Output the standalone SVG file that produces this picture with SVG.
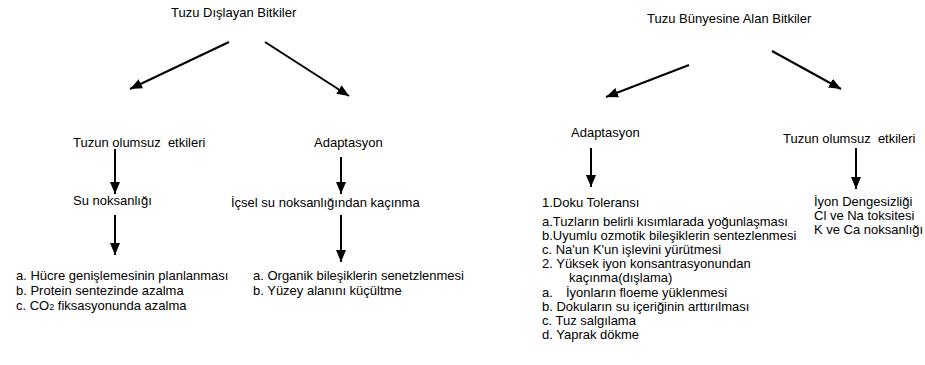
<svg xmlns="http://www.w3.org/2000/svg" width="925" height="365" viewBox="0 0 925 365">
<defs>
<style>
text{font-family:"Liberation Sans",Arial,sans-serif;font-size:13px;fill:#000;white-space:pre}
.c line{stroke:#000;stroke-width:2;marker-end:url(#ah)}
</style>
<marker id="ah" markerUnits="userSpaceOnUse" markerWidth="12" markerHeight="10" refX="12" refY="5" orient="auto">
<path d="M0,0 L12,5 L0,10 Z" fill="#000"/>
</marker>
</defs>
<rect width="925" height="365" fill="#fff"/>
<g id="connectors" class="c">
<line x1="229" y1="42" x2="130" y2="89"/>
<line x1="265" y1="42" x2="349" y2="96"/>
<line x1="689" y1="65" x2="606" y2="97"/>
<line x1="772" y1="51" x2="841" y2="89"/>
<line x1="115" y1="149" x2="115" y2="194"/>
<line x1="115" y1="215" x2="115" y2="255"/>
<line x1="341" y1="157" x2="341" y2="194"/>
<line x1="341" y1="215" x2="341" y2="262"/>
<line x1="591" y1="148" x2="591" y2="187"/>
<line x1="856" y1="148" x2="856" y2="189"/>
</g>
<g id="n-dislayan"><text x="171" y="17">Tuzu Dışlayan Bitkiler</text></g>
<g id="n-bunyesine"><text x="647" y="23">Tuzu Bünyesine Alan Bitkiler</text></g>
<g id="n-olumsuz-l"><text x="73" y="147">Tuzun olumsuz  etkileri</text></g>
<g id="n-adapt-l"><text x="314" y="147">Adaptasyon</text></g>
<g id="n-su"><text x="73" y="205">Su noksanlığı</text></g>
<g id="n-icsel"><text x="231" y="207">İçsel su noksanlığından kaçınma</text></g>
<g id="n-list-l">
<text x="16" y="280">a. Hücre genişlemesinin planlanması</text>
<text x="16" y="295">b. Protein sentezinde azalma</text>
<text x="16" y="310">c. CO<tspan font-size="9">2</tspan> fiksasyonunda azalma</text>
</g>
<g id="n-list-m">
<text x="253" y="280">a. Organik bileşiklerin senetzlenmesi</text>
<text x="253" y="295">b. Yüzey alanını küçültme</text>
</g>
<g id="n-adapt-r"><text x="571" y="137">Adaptasyon</text></g>
<g id="n-olumsuz-r"><text x="783" y="143">Tuzun olumsuz  etkileri</text></g>
<g id="n-list-r">
<text x="542" y="207">1.Doku Toleransı</text>
<text x="542" y="226">a.Tuzların belirli kısımlarada yoğunlaşması</text>
<text x="542" y="240">b.Uyumlu ozmotik bileşiklerin sentezlenmesi</text>
<text x="542" y="254">c. Na'un K'un işlevini yürütmesi</text>
<text x="542" y="268">2. Yüksek iyon konsantrasyonundan</text>
<text x="569" y="282">kaçınma(dışlama)</text>
<text x="542" y="297">a.</text>
<text x="566" y="297">İyonların floeme yüklenmesi</text>
<text x="542" y="311">b. Dokuların su içeriğinin arttırılması</text>
<text x="542" y="325">c. Tuz salgılama</text>
<text x="542" y="339">d. Yaprak dökme</text>
</g>
<g id="n-iyon">
<text x="814" y="206">İyon Dengesizliği</text>
<text x="814" y="220">Cl ve Na toksitesi</text>
<text x="814" y="234">K ve Ca noksanlığı</text>
</g>
</svg>
